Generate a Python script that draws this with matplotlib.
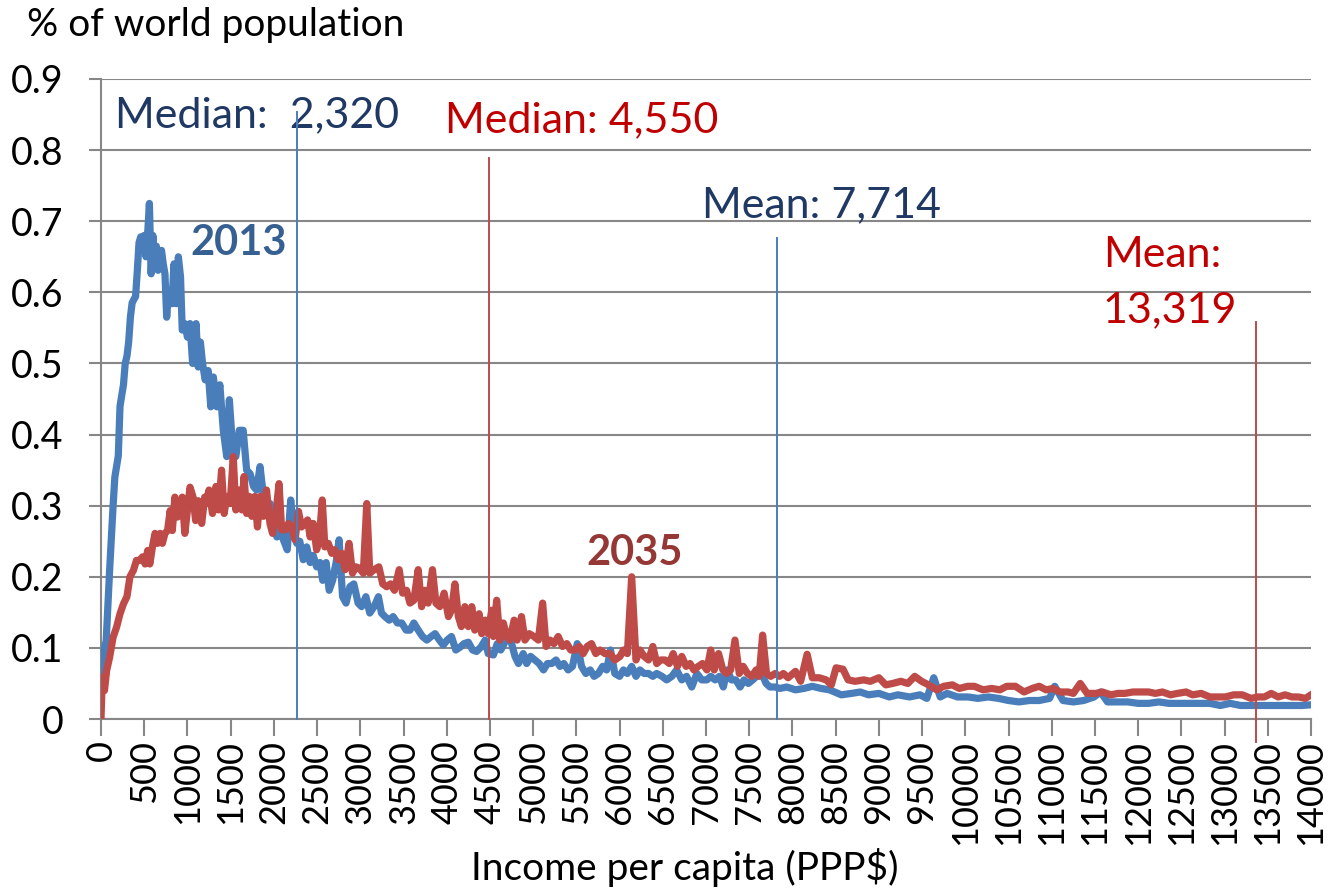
import matplotlib
matplotlib.use("Agg")
import matplotlib.pyplot as plt

plt.rcParams['font.family'] = ['Lato', 'DejaVu Sans']

# income per capita (PPP$) and % of world population
inc_2013 = [0, 20, 40, 60, 80, 100, 120, 140, 160, 180, 200, 220, 240, 260, 280, 300, 320, 340, 360, 380,
            400, 420, 440, 460, 480, 500, 520, 540, 560, 580, 600, 620, 640, 660, 680, 700, 720, 740, 760, 780,
            800, 820, 845, 870, 895, 920, 940, 970, 1000, 1030, 1060, 1100, 1125, 1150, 1175, 1205, 1240, 1270,
            1300, 1340, 1375, 1415, 1455, 1485, 1525, 1560, 1600, 1645, 1685, 1725, 1765, 1800, 1840, 1880,
            1915, 1955, 1995, 2035, 2070, 2110, 2155, 2195, 2225, 2265, 2300, 2340, 2380, 2420, 2455, 2495,
            2535, 2565, 2605, 2640, 2680, 2720, 2755, 2795, 2835, 2880, 2925, 2975, 3015, 3065, 3110, 3160,
            3210, 3245, 3285, 3335, 3380, 3430, 3480, 3530, 3575, 3620, 3670, 3720, 3770, 3820, 3865, 3915,
            3960, 4005, 4055, 4105, 4155, 4200, 4250, 4300, 4345, 4395, 4445, 4480, 4540, 4585, 4625, 4665,
            4700, 4740, 4790, 4830, 4885, 4925, 4970, 5020, 5070, 5120, 5165, 5215, 5265, 5310, 5355, 5405,
            5455, 5510, 5560, 5610, 5660, 5705, 5755, 5805, 5850, 5895, 5945, 6000, 6045, 6090, 6140, 6190,
            6235, 6285, 6335, 6385, 6430, 6490, 6545, 6605, 6660, 6720, 6775, 6835, 6895, 6950, 7010, 7055,
            7105, 7155, 7200, 7245, 7295, 7345, 7395, 7440, 7490, 7540, 7585, 7645, 7695, 7740, 7800, 7855,
            7935, 8035, 8135, 8230, 8330, 8430, 8565, 8685, 8785, 8880, 9000, 9120, 9220, 9355, 9475, 9555,
            9635, 9710, 9790, 9910, 10030, 10145, 10265, 10385, 10500, 10620, 10740, 10855, 10975, 11035,
            11130, 11250, 11370, 11490, 11565, 11645, 11765, 11880, 12000, 12120, 12240, 12355, 12475, 12595,
            12710, 12830, 12950, 13065, 13185, 13305, 13420, 13540, 13660, 13780, 13895, 14000]
pop_2013 = [0.05, 0.085, 0.1, 0.11, 0.16, 0.21, 0.255, 0.3, 0.34, 0.355, 0.37, 0.44, 0.455, 0.47, 0.5, 0.51,
            0.53, 0.565, 0.585, 0.59, 0.594, 0.63, 0.67, 0.678, 0.675, 0.68, 0.65, 0.683, 0.725, 0.626, 0.68,
            0.64, 0.665, 0.631, 0.65, 0.659, 0.64, 0.626, 0.565, 0.6, 0.59, 0.584, 0.64, 0.584, 0.65, 0.622,
            0.547, 0.556, 0.537, 0.556, 0.5, 0.556, 0.495, 0.53, 0.5, 0.477, 0.49, 0.439, 0.481, 0.439, 0.47,
            0.406, 0.369, 0.449, 0.378, 0.369, 0.406, 0.406, 0.35, 0.345, 0.327, 0.322, 0.355, 0.313, 0.299,
            0.303, 0.285, 0.256, 0.266, 0.252, 0.238, 0.308, 0.27, 0.247, 0.25, 0.224, 0.242, 0.22, 0.23,
            0.214, 0.22, 0.195, 0.22, 0.181, 0.195, 0.22, 0.252, 0.172, 0.163, 0.186, 0.19, 0.163, 0.158,
            0.172, 0.149, 0.158, 0.172, 0.149, 0.144, 0.139, 0.144, 0.135, 0.135, 0.125, 0.125, 0.135, 0.125,
            0.116, 0.111, 0.116, 0.12, 0.111, 0.104, 0.111, 0.116, 0.097, 0.101, 0.106, 0.108, 0.097, 0.095,
            0.101, 0.111, 0.092, 0.09, 0.106, 0.097, 0.106, 0.12, 0.111, 0.088, 0.078, 0.092, 0.078, 0.088,
            0.083, 0.078, 0.069, 0.078, 0.078, 0.083, 0.074, 0.078, 0.069, 0.074, 0.106, 0.074, 0.064, 0.069,
            0.06, 0.064, 0.074, 0.069, 0.097, 0.064, 0.06, 0.069, 0.064, 0.074, 0.06, 0.069, 0.064, 0.064,
            0.06, 0.064, 0.06, 0.055, 0.06, 0.069, 0.055, 0.06, 0.045, 0.064, 0.055, 0.055, 0.06, 0.055, 0.06,
            0.045, 0.069, 0.055, 0.055, 0.045, 0.055, 0.05, 0.055, 0.06, 0.064, 0.05, 0.045, 0.045, 0.043,
            0.045, 0.041, 0.043, 0.046, 0.043, 0.041, 0.034, 0.036, 0.038, 0.034, 0.036, 0.031, 0.034, 0.031,
            0.034, 0.029, 0.058, 0.031, 0.036, 0.031, 0.031, 0.029, 0.031, 0.029, 0.026, 0.024, 0.026, 0.026,
            0.029, 0.046, 0.026, 0.024, 0.026, 0.031, 0.038, 0.024, 0.024, 0.024, 0.022, 0.022, 0.024, 0.022,
            0.022, 0.022, 0.022, 0.022, 0.019, 0.022, 0.019, 0.019, 0.019, 0.019, 0.019, 0.019, 0.019, 0.02]

inc_2035 = [0, 15, 40, 65, 100, 140, 180, 220, 260, 300, 335, 375, 410, 450, 480, 510, 540, 565, 595, 625,
            655, 685, 710, 740, 770, 800, 825, 855, 885, 915, 940, 970, 1000, 1030, 1065, 1095, 1125, 1165,
            1200, 1215, 1250, 1290, 1330, 1360, 1395, 1425, 1455, 1495, 1530, 1560, 1600, 1630, 1655, 1685,
            1715, 1745, 1780, 1810, 1840, 1880, 1915, 1955, 1985, 2015, 2060, 2090, 2130, 2170, 2205, 2245,
            2285, 2320, 2360, 2390, 2420, 2455, 2495, 2525, 2560, 2590, 2630, 2670, 2705, 2745, 2785, 2825,
            2870, 2910, 2950, 2990, 3035, 3075, 3110, 3160, 3215, 3260, 3305, 3350, 3395, 3450, 3490, 3535,
            3575, 3620, 3670, 3710, 3750, 3785, 3835, 3875, 3920, 3970, 4020, 4055, 4095, 4135, 4170, 4210,
            4250, 4290, 4325, 4375, 4405, 4445, 4480, 4520, 4540, 4578, 4615, 4655, 4695, 4730, 4780, 4815,
            4865, 4905, 4955, 5010, 5060, 5110, 5150, 5195, 5240, 5290, 5340, 5390, 5435, 5485, 5535, 5580,
            5625, 5675, 5725, 5775, 5830, 5890, 5945, 6005, 6045, 6090, 6140, 6190, 6235, 6285, 6335, 6385,
            6430, 6475, 6525, 6575, 6620, 6670, 6720, 6770, 6815, 6860, 6910, 6960, 7010, 7055, 7095, 7145,
            7195, 7240, 7285, 7335, 7385, 7430, 7480, 7530, 7580, 7615, 7655, 7700, 7750, 7800, 7850, 7895,
            7950, 8035, 8095, 8170, 8230, 8310, 8390, 8450, 8505, 8585, 8645, 8725, 8825, 8900, 9000, 9080,
            9160, 9255, 9335, 9415, 9495, 9575, 9670, 9750, 9850, 9930, 10030, 10105, 10205, 10305, 10400,
            10480, 10580, 10680, 10775, 10855, 10935, 11015, 11095, 11190, 11250, 11330, 11410, 11510, 11585,
            11685, 11765, 11845, 11940, 12040, 12120, 12200, 12280, 12375, 12455, 12555, 12630, 12730, 12830,
            12910, 13010, 13105, 13205, 13305, 13385, 13460, 13540, 13620, 13700, 13780, 13855, 13935, 14000]
pop_2035 = [0.0, 0.059, 0.04, 0.068, 0.087, 0.115, 0.129, 0.148, 0.162, 0.172, 0.2, 0.209, 0.223, 0.223,
            0.228, 0.218, 0.237, 0.218, 0.242, 0.261, 0.247, 0.261, 0.247, 0.261, 0.265, 0.293, 0.265, 0.312,
            0.284, 0.293, 0.312, 0.261, 0.293, 0.326, 0.312, 0.279, 0.307, 0.275, 0.312, 0.303, 0.322, 0.289,
            0.327, 0.294, 0.35, 0.289, 0.313, 0.303, 0.369, 0.294, 0.322, 0.294, 0.341, 0.289, 0.313, 0.285,
            0.313, 0.27, 0.313, 0.285, 0.322, 0.275, 0.261, 0.28, 0.331, 0.266, 0.266, 0.275, 0.27, 0.252,
            0.292, 0.27, 0.275, 0.28, 0.256, 0.275, 0.238, 0.252, 0.308, 0.242, 0.247, 0.233, 0.238, 0.224,
            0.233, 0.21, 0.247, 0.205, 0.214, 0.212, 0.205, 0.303, 0.205, 0.21, 0.214, 0.19, 0.186, 0.19,
            0.181, 0.21, 0.177, 0.181, 0.163, 0.167, 0.21, 0.158, 0.181, 0.163, 0.21, 0.163, 0.158, 0.177,
            0.144, 0.153, 0.19, 0.144, 0.13, 0.158, 0.13, 0.158, 0.125, 0.148, 0.12, 0.139, 0.12, 0.153,
            0.116, 0.167, 0.111, 0.135, 0.116, 0.111, 0.139, 0.111, 0.144, 0.111, 0.12, 0.116, 0.111, 0.163,
            0.102, 0.111, 0.106, 0.116, 0.102, 0.106, 0.097, 0.097, 0.102, 0.092, 0.102, 0.106, 0.092, 0.097,
            0.092, 0.092, 0.083, 0.088, 0.097, 0.092, 0.2, 0.083, 0.097, 0.088, 0.083, 0.102, 0.078, 0.083,
            0.083, 0.078, 0.092, 0.074, 0.088, 0.074, 0.078, 0.069, 0.074, 0.078, 0.069, 0.097, 0.069, 0.092,
            0.069, 0.064, 0.069, 0.111, 0.064, 0.074, 0.064, 0.06, 0.069, 0.06, 0.118, 0.064, 0.06, 0.064,
            0.06, 0.064, 0.058, 0.067, 0.053, 0.091, 0.058, 0.058, 0.055, 0.048, 0.072, 0.07, 0.055, 0.053,
            0.055, 0.053, 0.058, 0.048, 0.05, 0.053, 0.05, 0.06, 0.053, 0.048, 0.041, 0.046, 0.048, 0.043,
            0.046, 0.046, 0.041, 0.043, 0.041, 0.046, 0.046, 0.038, 0.043, 0.046, 0.041, 0.043, 0.038, 0.038,
            0.036, 0.05, 0.036, 0.036, 0.038, 0.034, 0.036, 0.036, 0.038, 0.038, 0.038, 0.036, 0.038, 0.034,
            0.036, 0.038, 0.034, 0.036, 0.031, 0.031, 0.031, 0.034, 0.034, 0.029, 0.031, 0.031, 0.036, 0.031,
            0.034, 0.031, 0.031, 0.029, 0.034]

# summary markers: position on the axis and height of the marker line
median_2013 = 2270
median_2035 = 4490
mean_2013 = 7820
mean_2035 = 13360
median_2013_top = 0.854
median_2035_top = 0.789
mean_2013_top = 0.676
mean_2035_top = 0.558

x_ticks = list(range(0, 14001, 500))

blue = '#4A7EBB'
red = '#BE4B48'
navy = '#1F3864'
dark_red = '#C00000'
grid_gray = '#878787'

fig = plt.figure(figsize=(13.3, 8.88), dpi=100)
ax = fig.add_axes([101 / 1330, 1 - 719 / 888, 1210 / 1330, 640 / 888])

ax.plot(inc_2013, pop_2013, color=blue, lw=5.2, solid_joinstyle='round', zorder=3)
ax.plot(inc_2035, pop_2035, color=red, lw=5.2, solid_joinstyle='round', zorder=4)

# median / mean markers
ax.plot([median_2013, median_2013], [0, median_2013_top], color=blue, lw=1.4, zorder=5, clip_on=False)
ax.plot([median_2035, median_2035], [0, median_2035_top], color=red, lw=1.4, zorder=5, clip_on=False)
ax.plot([mean_2013, mean_2013], [0, mean_2013_top], color=blue, lw=1.4, zorder=5, clip_on=False)
ax.plot([mean_2035, mean_2035], [-0.033, mean_2035_top], color=red, lw=1.4, zorder=5, clip_on=False)

note_size = 31
ax.text(160, 0.849, 'Median:  2,320', color=navy, fontsize=note_size, ha='left', va='center')
ax.text(3980, 0.842, 'Median: 4,550', color=dark_red, fontsize=note_size, ha='left', va='center')
ax.text(6950, 0.723, 'Mean: 7,714', color=navy, fontsize=note_size, ha='left', va='center')
ax.text(11590, 0.652, 'Mean:', color=dark_red, fontsize=note_size, ha='left', va='center')
ax.text(11590, 0.575, '13,319', color=dark_red, fontsize=note_size, ha='left', va='center')
ax.text(1030, 0.669, '2013', color='#376092', fontsize=30, fontweight='bold', ha='left', va='center')
ax.text(5620, 0.233, '2035', color='#953735', fontsize=30, fontweight='bold', ha='left', va='center')

ax.set_xlim(0, 14000)
ax.set_ylim(0, 0.9)
ax.set_xticks(x_ticks)
ax.set_xticklabels([str(t) for t in x_ticks], rotation=90, fontsize=26)
ax.set_yticks([i / 10 for i in range(10)])
ax.set_yticklabels(['0'] + ['0.%d' % i for i in range(1, 10)], fontsize=27)
ax.tick_params(axis='x', length=12, width=1.5, color=grid_gray, pad=3)
ax.tick_params(axis='y', length=9, width=1.5, color=grid_gray, pad=18)

ax.grid(axis='y', color=grid_gray, lw=1.5)
ax.set_axisbelow(True)
for side in ['top', 'right']:
    ax.spines[side].set_visible(False)
for side in ['left', 'bottom']:
    ax.spines[side].set_color(grid_gray)
    ax.spines[side].set_linewidth(1.5)

fig.text(27 / 1330, 1 - 25 / 888, '% of world population', fontsize=28, ha='left', va='center')
fig.text(685 / 1330, 1 - 867 / 888, 'Income per capita (PPP$)', fontsize=28, ha='center', va='center')

fig.savefig('out.png', dpi=100)
